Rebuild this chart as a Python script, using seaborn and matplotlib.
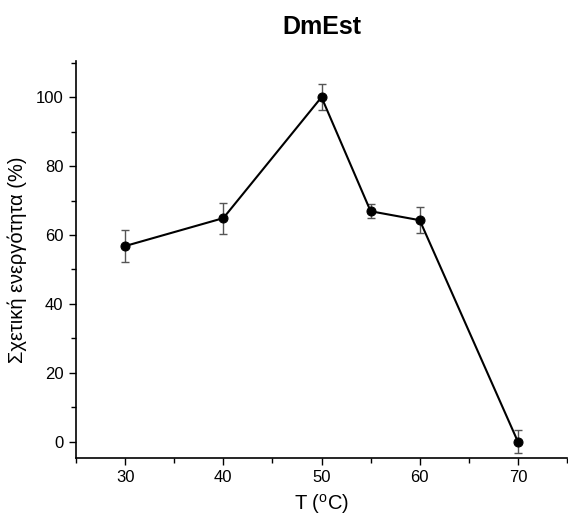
import matplotlib
matplotlib.use("Agg")
import matplotlib.pyplot as plt
import seaborn as sns
import numpy as np
import pandas as pd
from matplotlib.ticker import MultipleLocator

temps = [30, 40, 50, 55, 60, 70]
activity = [56.8, 64.9, 100.0, 66.9, 64.3, 0.0]
errors = [4.6, 4.5, 3.7, 2.0, 3.8, 3.3]

sns.set_theme(style="ticks")
plt.rcParams['font.family'] = ['Liberation Sans', 'DejaVu Sans']
plt.rcParams['mathtext.fontset'] = 'custom'
plt.rcParams['mathtext.rm'] = 'Liberation Sans'
plt.rcParams['text.color'] = 'black'
plt.rcParams['axes.labelcolor'] = 'black'
plt.rcParams['xtick.color'] = 'black'
plt.rcParams['ytick.color'] = 'black'

df = pd.DataFrame({"T": temps, "A": activity, "err": errors})

fig = plt.figure(figsize=(5.68, 5.24), dpi=100)
ax = fig.add_axes([0.1338, 0.126, 0.8645, 0.7576])

ax.errorbar(df["T"], df["A"], yerr=df["err"], fmt="none", ecolor="#555555",
            elinewidth=1.0, capsize=3, capthick=1.0, zorder=2)
sns.lineplot(data=df, x="T", y="A", ax=ax, color="black", linewidth=1.5,
             marker="o", markersize=6.5, markeredgecolor="black",
             markerfacecolor="black", zorder=3)

ax.set_xlim(25, 75)
ax.set_ylim(-4.7, 110.5)
ax.xaxis.set_major_locator(MultipleLocator(10))
ax.xaxis.set_minor_locator(MultipleLocator(5))
ax.yaxis.set_major_locator(MultipleLocator(20))
ax.yaxis.set_minor_locator(MultipleLocator(10))
ax.tick_params(which="major", direction="out", length=5, width=1.0,
               labelsize=12, colors="black", pad=4)
ax.tick_params(which="minor", direction="out", length=3.5, width=1.0)
for s in ["top", "right"]:
    ax.spines[s].set_visible(False)
for s in ["left", "bottom"]:
    ax.spines[s].set_linewidth(1.2)
    ax.spines[s].set_color("black")

ax.set_xlabel("T ($^{\\mathrm{o}}$C)", fontsize=14.5, labelpad=5, color="black")
ax.set_ylabel("Σχετική ενεργότητα (%)", fontsize=14.5, labelpad=6, color="black")
fig.text(0.567, 0.948, "DmEst", ha="center", va="center",
         fontsize=18, fontweight="bold", color="black")

fig.savefig("out.png", dpi=100)
